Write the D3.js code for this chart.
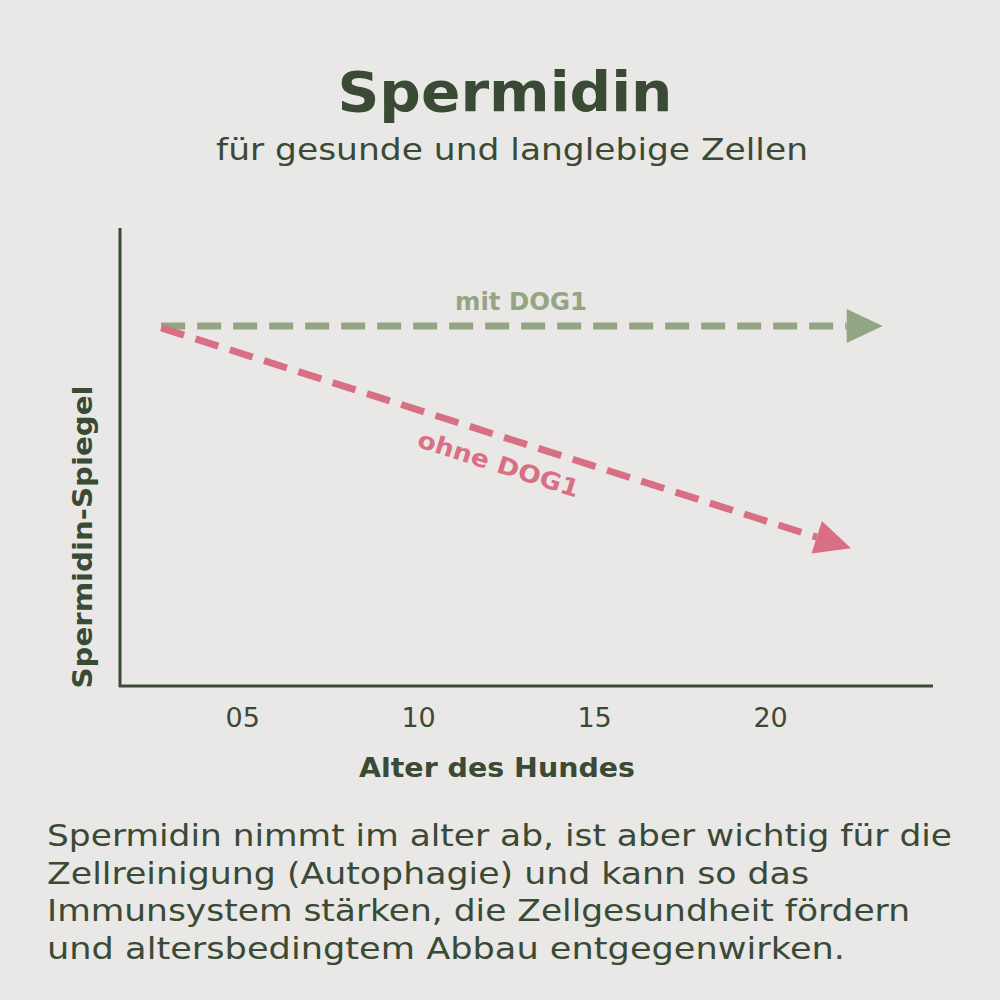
<!DOCTYPE html>
<html><head><meta charset="utf-8">
<script src="https://cdn.jsdelivr.net/npm/d3@7"></script>
<style>body{margin:0;background:#e9e8e6}svg{display:block}</style></head>
<body><svg width="1000" height="1000"></svg>
<script>
const tickValues=[5,10,15,20];
const tickLabels=["05","10","15","20"];
const seriesNames=["mit DOG1","ohne DOG1"];
const seriesColors=["#94a583","#d96f84"];
const mitAge=[2.7,23.2], mitLevel=[78.6,78.6];
const ohneAge=[2.7,22.3], ohneLevel=[78.2,30.1];
const para=["Spermidin nimmt im alter ab, ist aber wichtig für die","Zellreinigung (Autophagie) und kann so das","Immunsystem stärken, die Zellgesundheit fördern","und altersbedingtem Abbau entgegenwirken."];
const paraLen=[905,762,863,798];
const dark="#3a4a35", font="'DejaVu Sans', sans-serif";
const svg=d3.select("svg");
svg.append("rect").attr("width",1000).attr("height",1000).attr("fill","#e9e8e6");
const x=d3.scaleLinear().domain([1.53,24.63]).range([120,933]);
const y=d3.scaleLinear().domain([0,100]).range([686,228]);
function T(xp,yp,s,size,w,col,len){const t=svg.append("text").attr("x",xp).attr("y",yp).attr("text-anchor","middle").attr("font-family",font).attr("font-weight",w).attr("font-size",size).attr("fill",col).text(s);if(len)t.attr("textLength",len).attr("lengthAdjust","spacingAndGlyphs");return t;}
T(505,111,"Spermidin",56,700,dark,335);
T(512,160,"für gesunde und langlebige Zellen",30,400,dark,592);
svg.append("line").attr("x1",120).attr("x2",120).attr("y1",228).attr("y2",687).attr("stroke",dark).attr("stroke-width",3);
svg.append("line").attr("x1",119).attr("x2",933).attr("y1",686).attr("y2",686).attr("stroke",dark).attr("stroke-width",3);
const xa=svg.append("g").attr("transform","translate(0,686)").call(d3.axisBottom(x).tickValues(tickValues).tickFormat((d,i)=>tickLabels[i]).tickSize(0).tickPadding(22));
xa.select(".domain").remove();
xa.selectAll("text").attr("font-family",font).attr("font-size",27).attr("fill",dark);
T(497,777,"Alter des Hundes",27,700,dark,276);
T(0,0,"Spermidin-Spiegel",27,700,dark,303).attr("transform","translate(92,537) rotate(-90)");
function arrow(ages,lvls,color){
  const x0=x(ages[0]),y0=y(lvls[0]),x1=x(ages[1]),y1=y(lvls[1]);
  const a=Math.atan2(y1-y0,x1-x0),L=36,W=17;
  const bx=x1-L*Math.cos(a),by=y1-L*Math.sin(a);
  svg.append("line").attr("x1",x0).attr("y1",y0).attr("x2",bx).attr("y2",by).attr("stroke",color).attr("stroke-width",7).attr("stroke-dasharray","24,12");
  const px=-Math.sin(a),py=Math.cos(a);
  svg.append("path").attr("d",`M${x1},${y1}L${bx+px*W},${by+py*W}L${bx-px*W},${by-py*W}Z`).attr("fill",color);
  return a;
}
arrow(mitAge,mitLevel,seriesColors[0]);
const a=arrow(ohneAge,ohneLevel,seriesColors[1]);
T(521,310,seriesNames[0],24,700,seriesColors[0],132);
T(0,0,seriesNames[1],24,700,seriesColors[1],168).attr("transform",`translate(496,472) rotate(${a*180/Math.PI})`);
para.forEach((t,i)=>svg.append("text").attr("x",47).attr("y",846+i*37.5).attr("font-family",font).attr("font-size",30).attr("fill",dark).attr("textLength",paraLen[i]).attr("lengthAdjust","spacingAndGlyphs").text(t));
</script></body></html>
